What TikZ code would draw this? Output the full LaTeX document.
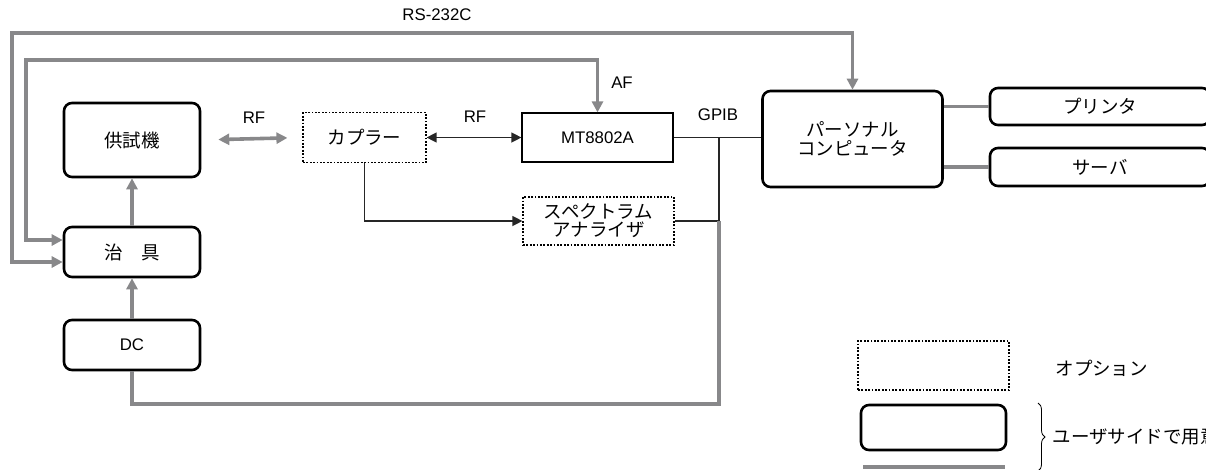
\documentclass[tikz,border=0pt]{standalone}
\usepackage{fontspec}
\setmainfont{Liberation Sans}
\newfontfamily\jp{Noto Sans CJK JP}[Scale=1.1]
\usepackage{tikz}
\usetikzlibrary{arrows.meta,decorations.pathreplacing}
\definecolor{lineGray}{RGB}{136,136,138}

\begin{document}
\begin{tikzpicture}[x=1pt,y=-1pt,
    font=\fontsize{16.8}{21}\selectfont,
    usrbox/.style={draw, line width=2.6pt, rounded corners=8pt, align=center, inner sep=0pt},
    optbox/.style={draw, dash pattern=on 1.8pt off 1.6pt, line width=1.2pt, align=center, inner sep=0pt},
    devbox/.style={draw, line width=1.2pt, align=center, inner sep=0pt},
    gline/.style={draw=lineGray, line width=3.6pt},
    bline/.style={draw=black!85, line width=1.3pt},
    gtip/.style={-{Triangle[length=11pt,width=11pt]}},
    gtips/.style={{Triangle[length=11pt,width=11pt]}-{Triangle[length=11pt,width=11pt]}},
    btips/.style={{Triangle[length=10pt,width=10pt]}-{Triangle[length=10pt,width=10pt]}}]
      \useasboundingbox (0,0) rectangle (1206,469);
      \clip (0,0) rectangle (1206,469);

      % equipment
      \node[usrbox, minimum width=136pt, minimum height=74pt] (dut) at (132,140) {\jp 供試機};
      \node[usrbox, minimum width=136pt, minimum height=50pt] (jig) at (132,252) {\jp 治　具};
      \node[usrbox, minimum width=136pt, minimum height=50pt] (dc) at (132,345) {DC};
      \node[optbox, minimum width=123pt, minimum height=50pt] (cpl) at (364.5,137.5) {\jp カプラー};
      \node[devbox, minimum width=151pt, minimum height=49pt] (mt) at (597.5,137.5) {MT8802A};
      \node[optbox, minimum width=151pt, minimum height=48pt] (sa) at (598.5,221) {\jp スペクトラム\\[-3pt]\jp アナライザ};
      \node[usrbox, minimum width=180pt, minimum height=96pt] (pc) at (852.5,139) {\jp パーソナル\\[-2pt]\jp コンピュータ};
      \node[usrbox, minimum width=220pt, minimum height=37pt] (prn) at (1100,106.5) {\jp プリンタ};
      \node[usrbox, minimum width=220pt, minimum height=38pt] (srv) at (1100,167) {\jp サーバ};

      % labels
      \node (lblrs) at (437,15) {RS-232C};
      \node (lblrf1) at (254,118) {RF};
      \node (lblrf2) at (475,117) {RF};
      \node (lblaf) at (622,83) {AF};
      \node (lblgp) at (718,115) {GPIB};

      % RS-232C and AF
      \draw[gline, gtips] ([yshift=-10pt]jig.west) -| (12,33) -| (pc.north);
      \draw[gline, gtips] ([yshift=12pt]jig.west) -| (26,60) -| (mt.north);
      \draw[gline, gtip] (jig.north) -- (dut.south);
      \draw[gline, gtip] (dc.north) -- (jig.south);
      \draw[gline, gtips, shorten <=17pt, shorten >=15pt] (dut.east) -- (cpl.west);
      \draw[gline] (pc.east |- prn.west) -- (prn.west);
      \draw[gline] (pc.east |- srv.west) -- (srv.west);

      % RF / GPIB
      \draw[bline, btips] (cpl.east) -- (mt.west);
      \draw[bline, -{Triangle[length=10pt,width=10pt]}] (cpl.south) |- (sa.west);
      \coordinate (gpa) at (719,137.5);
      \coordinate (gpb) at (719,221);
      \draw[bline] (mt.east) -- (mt.east -| pc.west);
      \draw[bline] (gpa) -- (gpb);
      \draw[bline] (sa.east) -- (gpb);
      \draw[gline] (gpb) -- (719,404) -| (dc.south);

      % legend
      \node[optbox, minimum width=151pt, minimum height=49pt] (keyopt) at (933.5,365.5) {};
      \node[usrbox, minimum width=145pt, minimum height=45pt] (keyusr) at (933.5,427.5) {};
      \coordinate (keyla) at (863,467);
      \coordinate (keylb) at (1005,467);
      \draw[gline] (keyla) -- (keylb);
      \node[anchor=west] (lblopt) at (1052,368) {\jp オプション};
      \draw[line width=0.8pt, decorate, decoration={brace, amplitude=7pt}] (1038,403) -- (1038,471);
      \node[anchor=west] (lblusr) at (1049,437) {\jp ユーザサイドで用意};
    \end{tikzpicture}
\end{document}
